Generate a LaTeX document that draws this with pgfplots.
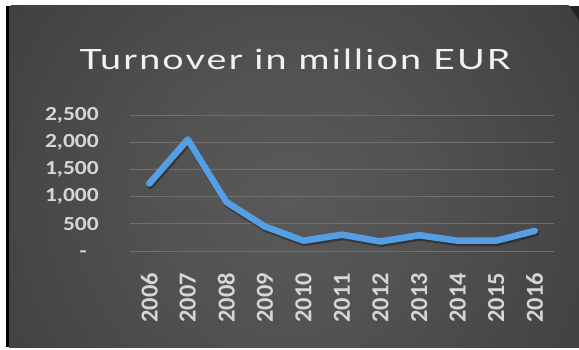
\documentclass[border=0pt]{standalone}
\usepackage{pgfplots}
\pgfplotsset{compat=1.18}
\usepackage{fontspec}
\newfontfamily\tickfont[FakeStretch=1.18]{Carlito}
\newfontfamily\xtickfont{Carlito}
\newfontfamily\titlefont[FakeStretch=1.35, LetterSpace=8]{Lato}
\definecolor{linec}{RGB}{84,158,228}
\definecolor{gridc}{RGB}{112,112,112}
\definecolor{tickc}{RGB}{214,214,214}
\definecolor{titlec}{RGB}{242,242,242}
\definecolor{bgout}{RGB}{36,36,36}
\pgfdeclareradialshading{bgshade}{\pgfpoint{0bp}{0bp}}{rgb(0bp)=(0.35,0.35,0.35); rgb(10bp)=(0.32,0.32,0.32); rgb(21bp)=(0.27,0.27,0.27); rgb(32bp)=(0.22,0.22,0.22); rgb(42bp)=(0.18,0.18,0.18); rgb(50bp)=(0.15,0.15,0.15)}
\begin{document}
\begin{tikzpicture}[x=1bp,y=1bp]
\useasboundingbox (0,0) rectangle (579,349);
\fill[white] (0,0) rectangle (579,349);
\fill[bgout] (7,2) rectangle (579,343);
\begin{scope}
\clip (9,2) rectangle (579,343);
\shade[shading=bgshade] (290,149) circle (340);
\end{scope}
\fill[black] (6,2) rectangle (9,343);
\node[titlec, anchor=base, inner sep=0pt, font=\titlefont\fontsize{28}{30}\selectfont] at (295,280) {Turnover in million EUR};
\begin{axis}[
  at={(130bp,98bp)}, anchor=south west,
  scale only axis, width=424bp, height=136bp,
  xmin=-0.5, xmax=10.5, ymin=0, ymax=2500,
  axis line style={draw=none},
  xtick={0,...,10},
  xticklabels={2006,2007,2008,2009,2010,2011,2012,2013,2014,2015,2016},
  ytick={0,500,1000,1500,2000,2500},
  yticklabels={{-\phantom{0}},{500},{1,000},{1,500},{2,000},{2,500}},
  major tick length=0pt,
  ymajorgrids, grid style={gridc, line width=0.8bp},
  yticklabel style={inner sep=0pt, anchor=east, xshift=-31bp, text=tickc, font=\tickfont\bfseries\fontsize{20}{22}\selectfont},
  xticklabel style={inner sep=0pt, anchor=east, yshift=-22bp, rotate=90, text=tickc, font=\xtickfont\bfseries\fontsize{24.5}{26}\selectfont},
  clip=false,
]
\addplot[black, opacity=0.35, line width=7bp, line join=round, line cap=round, xshift=1bp, yshift=-2bp] coordinates {
(0,1240) (1,2050) (2,900) (3,450) (4,190) (5,300) (6,175) (7,290) (8,190) (9,190) (10,370)};
\addplot[linec, line width=6.5bp, line join=round, line cap=round] coordinates {
(0,1240) (1,2050) (2,900) (3,450) (4,190) (5,300) (6,175) (7,290) (8,190) (9,190) (10,370)};
\end{axis}
\end{tikzpicture}
\end{document}
